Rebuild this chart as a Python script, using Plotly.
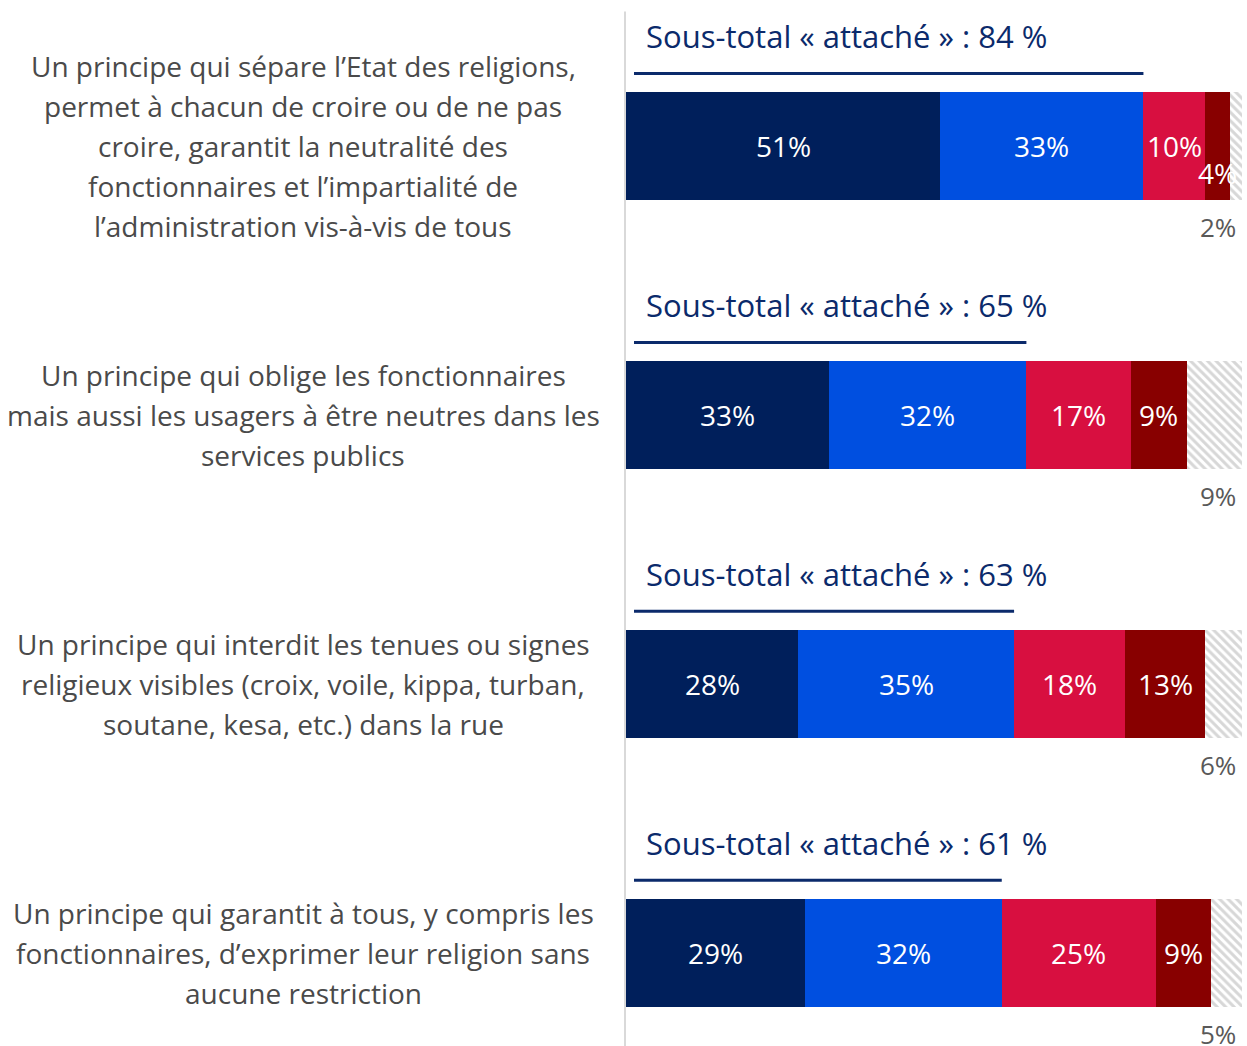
import plotly.graph_objects as go

labels = [
    "Un principe qui sépare l’Etat des religions,<br>permet à chacun de croire ou de ne pas<br>croire, garantit la neutralité des<br>fonctionnaires et l’impartialité de<br>l’administration vis-à-vis de tous",
    "Un principe qui oblige les fonctionnaires<br>mais aussi les usagers à être neutres dans les<br>services publics",
    "Un principe qui interdit les tenues ou signes<br>religieux visibles (croix, voile, kippa, turban,<br>soutane, kesa, etc.) dans la rue",
    "Un principe qui garantit à tous, y compris les<br>fonctionnaires, d’exprimer leur religion sans<br>aucune restriction",
]
subtotals = [84, 65, 63, 61]
tres_attache = [51, 33, 28, 29]
plutot_attache = [33, 32, 35, 32]
plutot_pas = [10, 17, 18, 25]
pas_du_tout = [4, 9, 13, 9]
nsp = [2, 9, 6, 5]

series = [tres_attache, plutot_attache, plutot_pas, pas_du_tout]
colors = ["#001F5B", "#004FE0", "#D80F40", "#880000"]
FONT = "Open Sans"

rows = list(range(len(labels)))
fig = go.Figure()
for vals, col in zip(series, colors):
    fig.add_trace(go.Bar(
        y=rows, x=vals, orientation="h", width=0.40,
        marker=dict(color=col, line=dict(width=0)),
        hoverinfo="skip", showlegend=False,
    ))
fig.add_trace(go.Bar(
    y=rows, x=nsp, orientation="h", width=0.40,
    marker=dict(color="white", line=dict(width=0),
                pattern=dict(shape="\\", fgcolor="#AFAFAF", bgcolor="white", size=6, solidity=0.5)),
    hoverinfo="skip", showlegend=False,
))

LINE_STEP = 40 / 269  # label line spacing in row units
annotations = []
for i in rows:
    cum = 0
    for vals in series:
        v = vals[i]
        yoff = 0.1 if v < 5 else 0
        annotations.append(dict(x=cum + v / 2, y=i + yoff, xref="x", yref="y",
                                text=f"{v}%", showarrow=False,
                                font=dict(family=FONT, size=28, color="white")))
        cum += v
    annotations.append(dict(x=99.4, y=i + 0.3, xref="x", yref="y", xanchor="right",
                            text=f"{nsp[i]}%", showarrow=False,
                            font=dict(family=FONT, size=26, color="#595959")))
    annotations.append(dict(x=3.0, y=i - 0.41, xref="x", yref="y", xanchor="left",
                            text=f"Sous-total « attaché » : {subtotals[i]} %", showarrow=False,
                            font=dict(family=FONT, size=31, color="#0B2A6B")))
    lines = labels[i].split("<br>")
    n = len(lines)
    for k, ln in enumerate(lines):
        annotations.append(dict(x=303 / 1247, y=i + (k - (n - 1) / 2) * LINE_STEP,
                                xref="paper", yref="y", xanchor="center",
                                text=ln, showarrow=False,
                                font=dict(family=FONT, size=28, color="#4A4A4A")))

shapes = []
for i in rows:
    shapes.append(dict(type="line", xref="x", yref="y", x0=1.3, x1=subtotals[i],
                       y0=i - 0.27, y1=i - 0.27, line=dict(color="#0B2A6B", width=3)))
shapes.append(dict(type="line", xref="paper", yref="paper", x0=625 / 1247, x1=625 / 1247,
                   y0=0, y1=0.989, line=dict(color="#D9D9D9", width=2)))

fig.update_layout(
    barmode="stack",
    width=1247, height=1046,
    margin=dict(l=0, r=0, t=0, b=0),
    paper_bgcolor="white", plot_bgcolor="white",
    bargap=0,
    xaxis=dict(domain=[626 / 1247, 1242 / 1247], range=[0, 100], visible=False, fixedrange=True),
    yaxis=dict(range=[3.346, -0.543], visible=False, fixedrange=True),
    annotations=annotations, shapes=shapes,
)

fig.write_html("out.html", config={"displayModeBar": False},
               post_script="document.body.style.margin='0';document.body.style.overflow='hidden';")
